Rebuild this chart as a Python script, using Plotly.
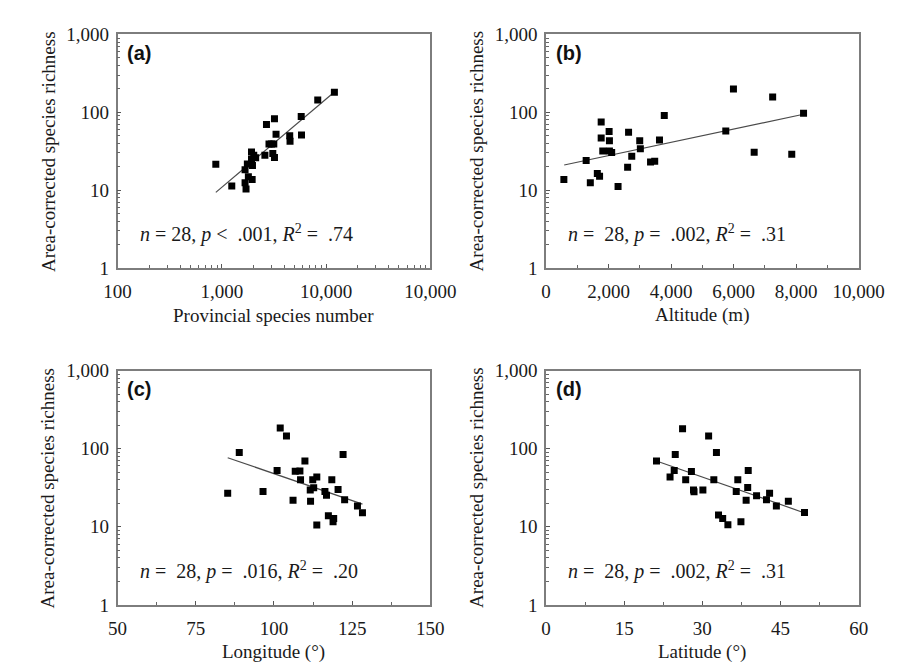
import plotly.graph_objects as go

W, H = 914, 666

# ---------------- data ----------------
# (a) provincial species number vs area-corrected species richness
a_species = [875, 1245, 1670, 1706, 1670, 1757, 1796, 1953, 1967, 1925, 2023, 1925, 2588, 2680,
             2834, 3150, 3198, 3081, 3198, 3311, 4479, 4510, 5773, 5810, 8318, 12016, 2990, 2110]
a_rich = [21.5, 11.3, 18.2, 10.3, 12.4, 21.7, 14.8, 13.7, 20.7, 30.9, 28.0, 24.8, 28.0, 69.5,
          39.2, 39.2, 82.6, 29.4, 26.2, 52.2, 49.8, 42.4, 88.3, 51.2, 143.6, 180.7, 39.2, 26.0]
a_fit_x = [875, 12250]
a_fit_y = [9.35, 186]

# (b) altitude
b_alt = [571, 1284, 1417, 1641, 1713, 1764, 1764, 1815, 2018, 2028, 2028, 2100, 2304, 2610,
         2640, 2742, 2997, 3017, 3343, 3476, 3629, 3782, 5749, 5994, 6657, 7248, 7859, 8236]
b_rich = [13.7, 23.9, 12.4, 16.3, 15.1, 75.2, 46.6, 31.8, 56.4, 43.0, 31.8, 30.3, 11.1, 19.7,
          55.3, 27.2, 43.0, 33.9, 23.0, 23.5, 44.0, 90.8, 57.4, 199, 30.6, 156.7, 28.8, 97.3]
b_fit_x = [581, 8236]
b_fit_y = [21.0, 94.4]

# (c) longitude
c_lon = [85.2, 88.9, 96.5, 101.0, 102.0, 104.0, 106.1, 106.8, 108.3, 108.5, 109.9, 111.6, 111.7, 112.4,
         112.7, 113.7, 113.7, 116.3, 116.8, 117.4, 118.5, 119.1, 118.9, 120.5, 122.1, 122.6, 126.7, 128.3]
c_rich = [26.9, 89.1, 28.2, 52.4, 184, 145, 21.8, 51.4, 51.7, 40.1, 69.6, 29.6, 21.2, 40.1,
          31.6, 43.3, 10.5, 28.2, 25.4, 13.8, 40.1, 12.8, 11.6, 30.1, 84.1, 22.2, 18.4, 15.1]
c_fit_x = [85.2, 128.3]
c_fit_y = [76.6, 19.5]

# (d) latitude
d_lat = [21.2, 23.8, 24.6, 24.8, 26.2, 26.8, 27.9, 28.3, 28.4, 30.1, 31.2, 32.7, 32.2, 33.1,
         33.9, 34.9, 36.5, 36.8, 37.4, 38.4, 38.8, 38.7, 40.4, 42.3, 42.9, 44.2, 46.5, 49.6]
d_rich = [69.6, 43.3, 52.4, 84.1, 180, 40.1, 50.9, 29.6, 28.0, 29.6, 145, 89.1, 40.1, 14.1,
          12.8, 10.6, 28.2, 40.1, 11.6, 21.8, 52.4, 31.9, 24.9, 22.2, 26.9, 18.4, 21.2, 15.2]
d_fit_x = [21.2, 49.9]
d_fit_y = [69.6, 14.8]

y_ticks = [1, 10, 100, 1000]
y_ticktext = ["1", "10", "100", "1,000"]
a_xticks = [100, 1000, 10000, 100000]
a_xticktext = ["100", "1,000", "10,000", "10,000"]
b_xticks = [0, 2000, 4000, 6000, 8000, 10000]
b_xticktext = ["0", "2,000", "4,000", "6,000", "8,000", "10,000"]
c_xticks = [50, 75, 100, 125, 150]
d_xticks = [0, 15, 30, 45, 60]

panel_labels = ["(a)", "(b)", "(c)", "(d)"]
x_titles = ["Provincial species number", "Altitude (m)", "Longitude (°)", "Latitude (°)"]
y_title = "Area-corrected species richness"
stats = [
    "<i>n</i> = 28, <i>p</i> &lt; &nbsp;.001, <i>R</i><sup>2</sup> = &nbsp;.74",
    "<i>n</i> = &nbsp;28, <i>p</i> = &nbsp;.002, <i>R</i><sup>2</sup> = &nbsp;.31",
    "<i>n</i> = &nbsp;28, <i>p</i> = &nbsp;.016, <i>R</i><sup>2</sup> = &nbsp;.20",
    "<i>n</i> = &nbsp;28, <i>p</i> = &nbsp;.002, <i>R</i><sup>2</sup> = &nbsp;.31",
]

# ---------------- layout helpers ----------------
def px_x(x):
    return x / W

def px_y(y):
    return 1 - y / H

SERIF = "Liberation Serif, Times New Roman, serif"
SANS = "Liberation Sans, Arial, sans-serif"

left_cols = [(100, 427), (548, 875)]
rows = [(17, 258), (364, 606)]

log_minor = [m * 10 ** k for k in range(0, 5) for m in range(2, 10)]

def base_axis():
    return dict(
        showline=True, linecolor="#7d7d7d", linewidth=1.5, mirror=True,
        ticks="inside", ticklen=4, tickwidth=1, tickcolor="#555",
        showgrid=False, zeroline=False,
        tickfont=dict(family=SERIF, size=19, color="#1a1a1a"),
    )

fig = go.Figure()

datasets = [
    (a_species, a_rich, a_fit_x, a_fit_y),
    (b_alt, b_rich, b_fit_x, b_fit_y),
    (c_lon, c_rich, c_fit_x, c_fit_y),
    (d_lat, d_rich, d_fit_x, d_fit_y),
]

for i, (xs, ys, fx, fy) in enumerate(datasets):
    xa = "x" if i == 0 else f"x{i+1}"
    ya = "y" if i == 0 else f"y{i+1}"
    fig.add_trace(go.Scatter(x=fx, y=fy, mode="lines", xaxis=xa, yaxis=ya,
                             line=dict(color="#4a4a4a", width=1.2), showlegend=False, hoverinfo="skip"))
    fig.add_trace(go.Scatter(x=xs, y=ys, mode="markers", xaxis=xa, yaxis=ya,
                             marker=dict(symbol="square", size=7, color="black", line=dict(width=0)),
                             showlegend=False))

layout = dict(
    width=W, height=H, margin=dict(l=0, r=0, t=0, b=0),
    paper_bgcolor="white", plot_bgcolor="white", showlegend=False,
)

annotations = []
for i in range(4):
    col = i % 2
    row = i // 2
    x0, x1 = left_cols[col]
    y0, y1 = rows[row]
    xname = "xaxis" if i == 0 else f"xaxis{i+1}"
    yname = "yaxis" if i == 0 else f"yaxis{i+1}"
    anchor_x = "y" if i == 0 else f"y{i+1}"
    anchor_y = "x" if i == 0 else f"x{i+1}"

    xa = base_axis()
    xa.update(domain=[px_x(x0), px_x(x1)], anchor=anchor_x, ticklabelstandoff=6)
    if i == 0:
        xa.update(type="log", range=[2, 5], tickmode="array", tickvals=a_xticks, ticktext=a_xticktext,
                  minor=dict(tickmode="array", tickvals=log_minor, ticks="inside", ticklen=3,
                             tickcolor="#666", showgrid=False))
    elif i == 1:
        xa.update(range=[0, 10000], tickmode="array", tickvals=b_xticks, ticktext=b_xticktext,
                  minor=dict(dtick=1000, ticks="inside", ticklen=3, tickcolor="#666", showgrid=False))
    elif i == 2:
        xa.update(range=[50, 150], tickmode="array", tickvals=c_xticks,
                  minor=dict(dtick=12.5, tick0=50, ticks="inside", ticklen=3, tickcolor="#666", showgrid=False))
    else:
        xa.update(range=[0, 60], tickmode="array", tickvals=d_xticks,
                  minor=dict(dtick=7.5, tick0=0, ticks="inside", ticklen=3, tickcolor="#666", showgrid=False))
    layout[xname] = xa

    ya = base_axis()
    ya.update(domain=[px_y(y1), px_y(y0)], anchor=anchor_y, type="log", range=[0, 3],
              tickmode="array", tickvals=y_ticks, ticktext=y_ticktext, ticklabelstandoff=3,
              minor=dict(tickmode="array", tickvals=log_minor, ticks="inside", ticklen=3,
                         tickcolor="#666", showgrid=False))
    layout[yname] = ya

    # panel label
    annotations.append(dict(xref="paper", yref="paper", x=px_x(x0 + 8), y=px_y(y0 + 19),
                            xanchor="left", yanchor="middle", showarrow=False, text=panel_labels[i],
                            font=dict(family=SANS, size=20, color="#111", weight="bold")))
    # stats text
    annotations.append(dict(xref="paper", yref="paper", x=px_x(x0 + 21), y=px_y(y0 + 206),
                            xanchor="left", yanchor="middle", showarrow=False, text=stats[i],
                            font=dict(family=SERIF, size=20, color="#1a1a1a")))
    # x title
    annotations.append(dict(xref="paper", yref="paper", x=px_x((x0 + x1) / 2), y=px_y(y1 + 49),
                            xanchor="center", yanchor="middle", showarrow=False, text=x_titles[i],
                            font=dict(family=SERIF, size=19, color="#1a1a1a")))
    # y title
    annotations.append(dict(xref="paper", yref="paper", x=px_x(x0 - 73), y=px_y((y0 + y1) / 2),
                            xanchor="center", yanchor="middle", showarrow=False, text=y_title, textangle=-90,
                            font=dict(family=SERIF, size=19, color="#1a1a1a")))

layout["annotations"] = annotations
fig.update_layout(**layout)
fig.write_html("out.html")
